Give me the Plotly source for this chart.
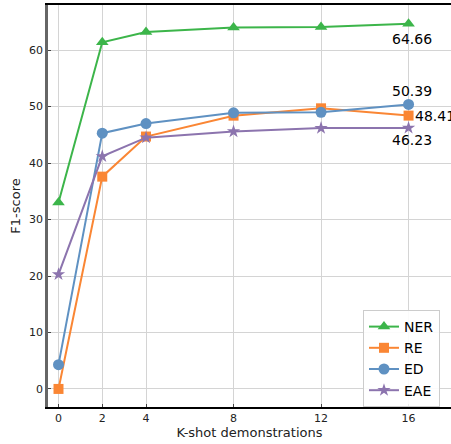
import plotly.graph_objects as go

shots = [0, 2, 4, 8, 12, 16]
ner = [33.0, 61.4, 63.2, 64.0, 64.1, 64.66]
re_ = [0.0, 37.6, 44.7, 48.4, 49.7, 48.41]
ed = [4.3, 45.3, 47.0, 48.9, 49.0, 50.39]
eae = [20.3, 41.2, 44.5, 45.6, 46.2, 46.23]

series = [
    ("NER", ner, "#3cb54a", "triangle-up", 11),
    ("RE", re_, "#fa8634", "square", 10),
    ("ED", ed, "#5f91c2", "circle", 11),
    ("EAE", eae, "#8c74ae", "star", 10),
]

fig = go.Figure()
for name, vals, color, sym, sz in series:
    fig.add_trace(go.Scatter(
        x=shots, y=vals, name=name, mode="lines+markers",
        line=dict(color=color, width=2),
        marker=dict(symbol=sym, size=sz, color=color),
    ))

font = "DejaVu Sans"
ann = [
    (16, ner[-1], "64.66", 3, -15, "center"),
    (16, ed[-1], "50.39", 3, 13, "center"),
    (16, re_[-1], "48.41", 4, 0, "left"),
    (16, eae[-1], "46.23", 3, -12, "center"),
]
for x, y, t, xs, ys, xa in ann:
    fig.add_annotation(x=x, y=y, text=t, showarrow=False, xshift=xs, yshift=ys,
                       xanchor=xa, yanchor="middle",
                       font=dict(family=font, size=14, color="black"))

fig.update_layout(
    width=451, height=444,
    margin=dict(l=48, r=0, t=5, b=37),
    paper_bgcolor="white", plot_bgcolor="white",
    font=dict(family=font, size=11, color="#222"),
    showlegend=True,
    legend=dict(x=0.7816, y=0.2413, xanchor="left", yanchor="top",
                bgcolor="rgba(255,255,255,0.9)", bordercolor="#cccccc", borderwidth=1,
                font=dict(family=font, size=14, color="black"),
                tracegroupgap=0, itemwidth=30),
    xaxis=dict(range=[-0.48, 17.94], tickvals=shots, ticktext=[str(s) for s in shots],
               showgrid=True, gridcolor="#d4d4d4", gridwidth=1, zeroline=False,
               showline=True, linecolor="black", linewidth=1.5, mirror=True,
               ticks="inside", ticklen=3, tickcolor="#444",
               title=dict(text="K-shot demonstrations", font=dict(family=font, size=13), standoff=4),
               tickfont=dict(family=font, size=11)),
    yaxis=dict(range=[-3.2, 68], tickvals=[0, 10, 20, 30, 40, 50, 60],
               showgrid=True, gridcolor="#d4d4d4", gridwidth=1, zeroline=False,
               showline=True, linecolor="#666666", linewidth=2.5, mirror=False,
               ticks="inside", ticklen=3, tickcolor="#444",
               title=dict(text="F1-score", font=dict(family=font, size=13), standoff=6),
               tickfont=dict(family=font, size=11)),
)

fig.write_html("out.html", config={"displayModeBar": False},
               post_script="document.body.style.margin='0px';document.body.style.overflow='hidden';")
